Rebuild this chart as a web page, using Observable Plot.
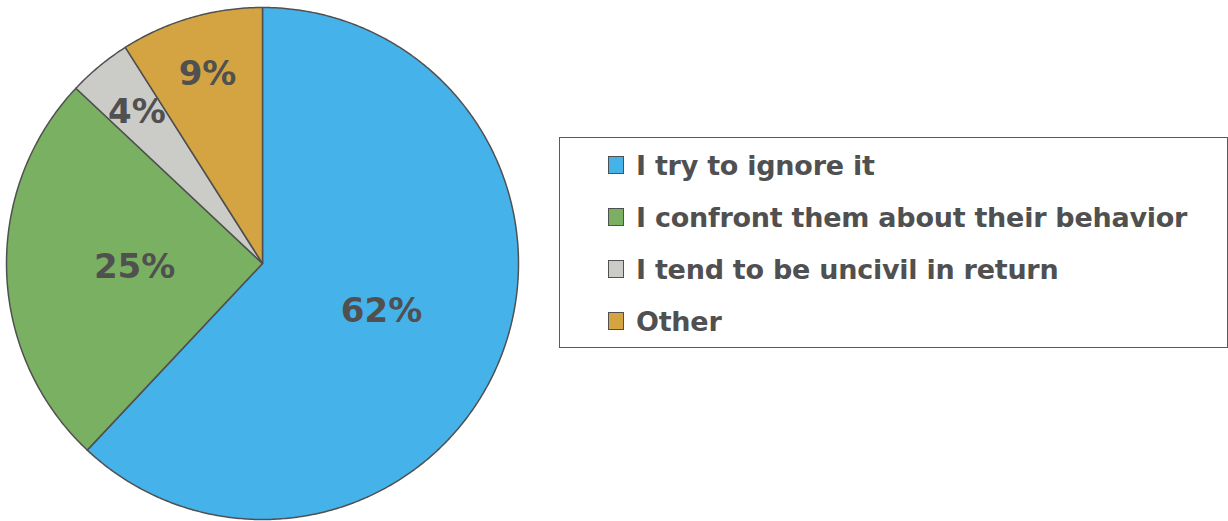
<!DOCTYPE html>
<html>
<head>
<meta charset="utf-8">
<script src="https://cdn.jsdelivr.net/npm/d3@7"></script>
<script src="https://cdn.jsdelivr.net/npm/@observablehq/plot@0.6"></script>
<style>
  html, body { margin: 0; padding: 0; background: #fff; }
  #wrap { position: relative; width: 1228px; height: 521px; overflow: hidden; }
  #legend {
    position: absolute; left: 559px; top: 137px; width: 669px; height: 211px;
    box-sizing: border-box; border: 1.5px solid #5a5a5a; background: #fff;
    padding-top: 1px;
    font-family: "DejaVu Sans", sans-serif; font-weight: bold; font-size: 27px; color: #505050;
  }
  .row { height: 52px; display: flex; align-items: center; padding-left: 48px; }
  .sw { width: 14px; height: 16px; border: 1.5px solid #505050; margin-right: 12px; flex: none; }
  .lab { letter-spacing: -0.25px; white-space: nowrap; }
</style>
</head>
<body>
<div id="wrap"></div>
<script>
const categories = ["I try to ignore it", "I confront them about their behavior", "I tend to be uncivil in return", "Other"];
const values = [62, 25, 4, 9];
const colors = ["#45B3EA", "#7AB062", "#CBCBC7", "#D4A443"];

const rows = categories.map((c, i) => ({category: c, value: values[i]}));
const arcs = d3.pie().sort(null).value(d => d.value)(rows);

function slicePoints(a) {
  const pts = [{x: 0, y: 0}];
  const n = Math.max(2, Math.ceil((a.endAngle - a.startAngle) / (Math.PI / 360)));
  for (let k = 0; k <= n; k++) {
    const t = a.startAngle + (a.endAngle - a.startAngle) * k / n;
    pts.push({x: Math.sin(t), y: Math.cos(t)});
  }
  return pts;
}

const labels = arcs.map(a => {
  const mid = (a.startAngle + a.endAngle) / 2;
  const r = a.data.value < 10 ? 0.77 : 0.5;
  return {x: r * Math.sin(mid), y: r * Math.cos(mid), text: a.data.value + "%"};
});

const chart = Plot.plot({
  width: 1228,
  height: 521,
  marginLeft: 6,
  marginRight: 710,
  marginTop: 7,
  marginBottom: 2,
  x: {domain: [-1, 1], axis: null},
  y: {domain: [-1, 1], axis: null},
  style: {background: "#fff"},
  marks: [
    ...arcs.map((a, i) => Plot.line(slicePoints(a), {
      x: "x", y: "y", fill: colors[i], stroke: "#505050", strokeWidth: 1.5, curve: "linear-closed"
    })),
    Plot.text(labels, {
      x: "x", y: "y", text: "text", fontSize: 34, fontWeight: "bold",
      fontFamily: "DejaVu Sans, sans-serif", fill: "#505050", letterSpacing: -1.5
    })
  ]
});

const wrap = document.getElementById("wrap");
wrap.appendChild(chart);

const legend = document.createElement("div");
legend.id = "legend";
categories.forEach((c, i) => {
  const row = document.createElement("div");
  row.className = "row";
  const sw = document.createElement("div");
  sw.className = "sw";
  sw.style.background = colors[i];
  const lab = document.createElement("span");
  lab.className = "lab";
  lab.textContent = c;
  row.appendChild(sw);
  row.appendChild(lab);
  legend.appendChild(row);
});
wrap.appendChild(legend);
</script>
</body>
</html>
